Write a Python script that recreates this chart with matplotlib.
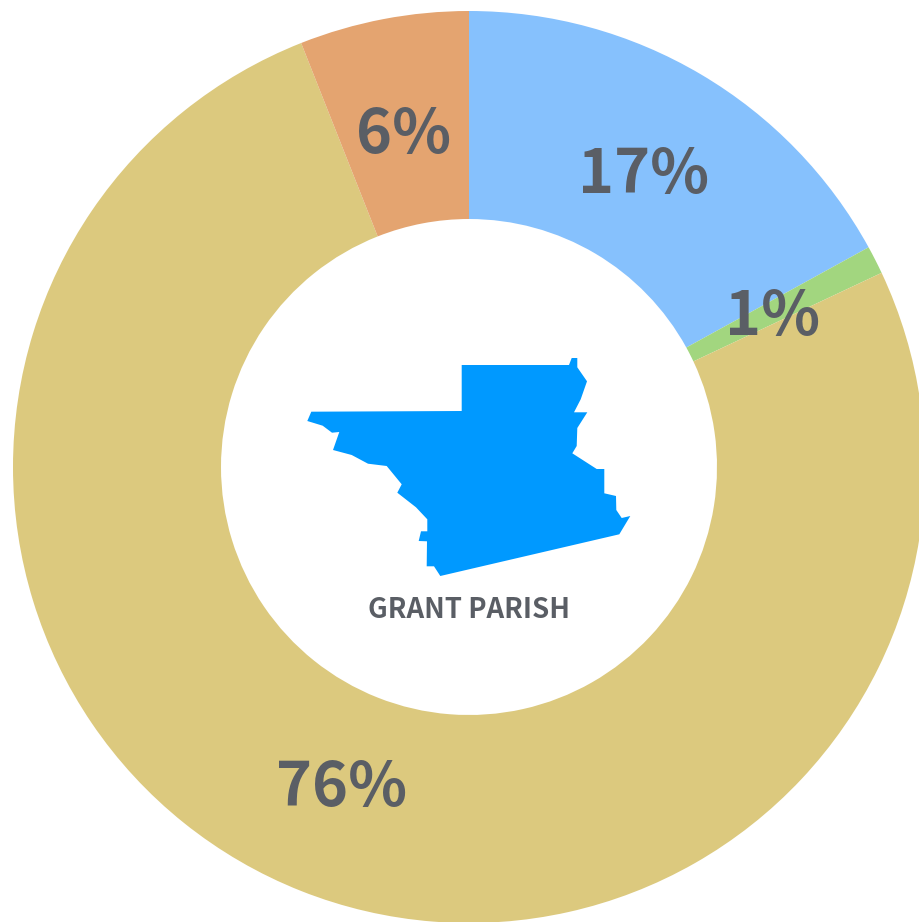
import matplotlib
matplotlib.use('Agg')
import matplotlib.pyplot as plt
from matplotlib.patches import Polygon

plt.rcParams['font.family'] = ['Noto Sans CJK SC', 'DejaVu Sans']

labels = ['17%', '1%', '76%', '6%']
values = [17, 1, 76, 6]
colors = ['#86c1fd', '#a2d67f', '#dcc97e', '#e4a470']

# parish outline in pixels of the picture
shape_x = [311.3, 461.7, 461.7, 569, 571.7, 577.3, 577.3, 587, 580.7, 574, 587.3, 577.3, 576.7, 572.3, 596.7, 604.3, 604.3, 616, 616.3, 621.7, 630.3, 619.3, 440.3, 434, 426.7, 427, 418.7, 421, 427.3, 427.3, 416, 397.3, 401.7, 386.7, 368, 351.7, 333, 339.3, 332, 322.7, 307.3]
shape_y = [411.7, 411, 365, 365, 358, 358, 367.3, 381.3, 399.3, 412.3, 412.3, 428, 446, 453.3, 469, 469, 493.3, 496, 510, 518, 516, 534.3, 576, 566.3, 566.3, 541.3, 541, 531.3, 531.3, 519.3, 507.3, 492.7, 484.3, 466, 463.7, 455, 450, 432, 432.7, 425.7, 421]

W, H = 919, 922
fig = plt.figure(figsize=(W / 100, H / 100), dpi=100)
ax = fig.add_axes([0, 0, 1, 1])

# y axis is inverted, so -90 is the top and the slices run clockwise
cx, cy, r = 469, 467, 456
wedges, _ = ax.pie(values, colors=colors, startangle=-90, counterclock=True,
                   center=(cx, cy), radius=r, frame=True,
                   wedgeprops=dict(width=r - 248))
ax.set_xlim(0, W)
ax.set_ylim(H, 0)
ax.set_aspect('equal')
ax.axis('off')

label_x = [644, 773, 342, 404]
label_y = [175, 317, 788, 135]
for s, x, y in zip(labels, label_x, label_y):
    ax.text(x, y, s, fontsize=44, fontweight='bold', color='#5a5e65', ha='center', va='center')

ax.add_patch(Polygon(list(zip(shape_x, shape_y)), closed=True, fc='#0099ff', ec='none'))
ax.text(469.5, 610, 'GRANT PARISH', fontsize=19.8, fontweight='bold', color='#5a5e65', ha='center', va='center')

fig.savefig('out.png', dpi=100)
